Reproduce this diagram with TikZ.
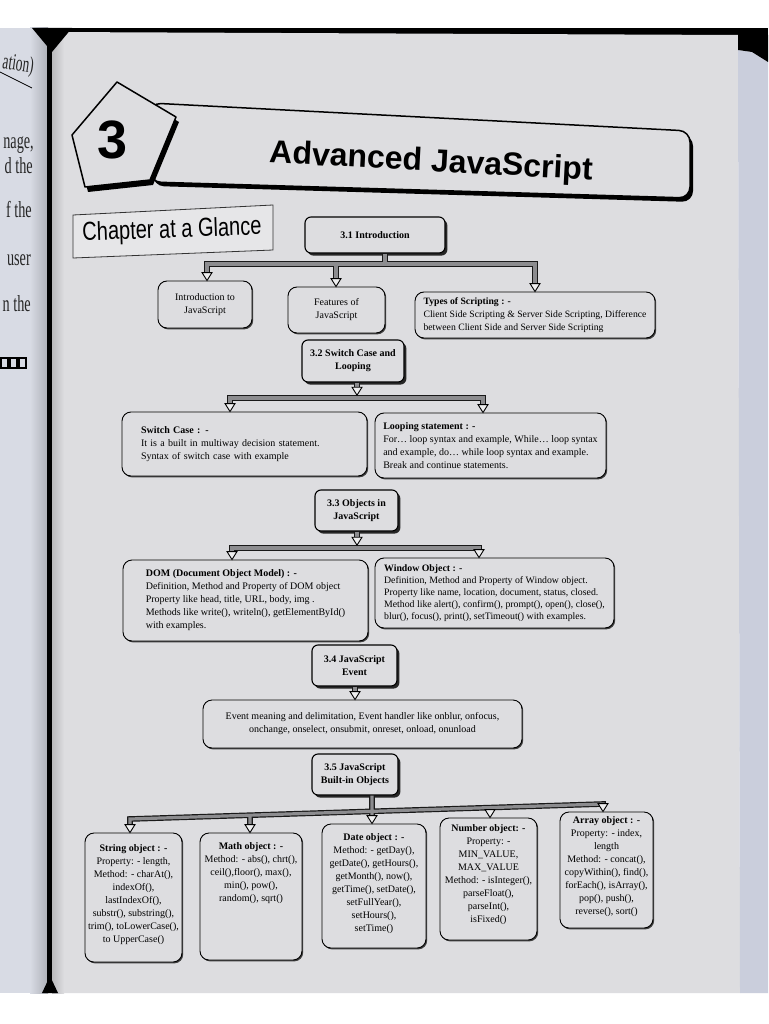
\documentclass[tikz,border=0pt]{standalone}
\usepackage{fontspec}
\setmainfont{Liberation Serif}
\newfontfamily\sansf{Liberation Sans}
\usetikzlibrary{calc,shadows}
\definecolor{pagec}{RGB}{221,221,224}
\definecolor{leftpg}{RGB}{216,219,228}
\definecolor{stackc}{RGB}{202,206,220}
\definecolor{pipegray}{RGB}{140,140,143}
\tikzset{
  hbox/.style={draw=black, line width=1.1pt, rounded corners=6pt, fill=pagec, align=center, inner sep=0pt,
    font=\bfseries\fontsize{10}{13}\selectfont,
    drop shadow={shadow xshift=2.4pt, shadow yshift=-2.6pt, fill=black!85, opacity=1}},
  cbox/.style={draw=black, line width=0.9pt, rounded corners=9pt, fill=pagec, align=left, inner sep=0pt,
    font=\fontsize{10}{13}\selectfont,
    drop shadow={shadow xshift=1.2pt, shadow yshift=-1.4pt, fill=black!75, opacity=1}},
  ctext/.style={align=center, inner sep=0pt, font=\fontsize{10}{13}\selectfont},
  pipeo/.style={line width=5.6pt, draw=black!90, line join=miter},
  pipei/.style={line width=3.2pt, draw=pipegray, line join=miter},
  headst/.style={draw=black, line width=0.9pt, fill=pagec!50!white, line join=miter},
  lp/.style={font=\fontsize{23}{23}\selectfont, inner sep=0pt, anchor=base east, text=black!85},
}
\newcommand\pipes[1]{\draw[pipeo] #1; \draw[pipei] #1;}
\newcommand\ahead[1]{\draw[headst] (#1) -- ++(-5,-8) -- ++(10,0) -- cycle;}
\begin{document}
\begin{tikzpicture}[x=1pt,y=-1pt]
\useasboundingbox (0,0) rectangle (768,1024);
% ---------- photo background ----------
\fill[white] (0,0) rectangle (768,1024);
\fill[leftpg] (0,28) rectangle (48,993);
\shade[left color=leftpg, right color=leftpg!80!black] (30,28) rectangle (48,993);
\fill[black] (46,28) rectangle (768,35);
\fill[pagec] (52,32) -- (738,35) -- (740,993) -- (52,993) -- cycle;
\shade[left color=pagec!84!black, right color=pagec] (52,32) rectangle (64,993);
\fill[stackc] (738,50) -- (752,52) -- (768,62) -- (768,993) -- (740,993) -- cycle;
\fill[black] (738,35) -- (768,35) -- (768,62) -- (752,52) -- (738,50) -- cycle;
\fill[black] (47,28) rectangle (52,993);
\fill[black] (32,28) -- (72,28) -- (52,52) -- cycle;
\fill[black] (42,993) -- (58,993) -- (50,976) -- cycle;
% ---------- left page fragments ----------
\node[lp, rotate=-8] (lp0) at (33,73) {\scalebox{0.58}[1]{ation)}};
\draw[line width=0.8pt] (0,72) -- (32,88);
\node[lp] (lp1) at (34,149) {\scalebox{0.62}[1]{nage,}};
\node[lp] (lp2) at (33,174) {\scalebox{0.62}[1]{d the}};
\node[lp] (lp3) at (32,218) {\scalebox{0.62}[1]{f the}};
\node[lp] (lp4) at (31,265) {\scalebox{0.62}[1]{user}};
\node[lp] (lp5) at (31,311) {\scalebox{0.62}[1]{n the}};
\foreach \xx in {1,10,19} \draw[line width=1.2pt] (\xx,358) rectangle ++(7,10);
% ---------- chapter banner ----------
\begin{scope}[shift={(3,4)}]
\fill[black, rounded corners=11pt] (150,103) -- (690,131) -- (690,198) -- (150,182) -- cycle;
\end{scope}
\draw[line width=1.5pt, fill=pagec, rounded corners=11pt] (150,103) -- (690,131) -- (690,198) -- (150,182) -- cycle;
\begin{scope}[shift={(3,5)}]
\fill[black, line join=round] (117,82) -- (176,117) -- (150,180) -- (85,187) -- (72,135) -- cycle;
\end{scope}
\draw[line width=1.5pt, fill=pagec, line join=round] (117,82) -- (176,117) -- (150,180) -- (85,187) -- (72,135) -- cycle;
\node[font=\sansf\bfseries\fontsize{54}{54}\selectfont, inner sep=0pt] (num3) at (113,140) {3};
\node[font=\sansf\bfseries\fontsize{32}{32}\selectfont, inner sep=0pt, rotate=-3] (title) at (431,163) {Advanced JavaScript};
% ---------- chapter at a glance ----------
\draw[line width=0.8pt, draw=black!80, fill=pagec!75!white] (73,215) -- (273,205) -- (273,250) -- (73,258) -- cycle;
\node[font=\sansf\fontsize{26}{26}\selectfont, inner sep=0pt, rotate=2] (cag) at (172,231) {\scalebox{0.77}[1]{Chapter at a Glance}};
% ---------- 3.1 ----------
\node[hbox, minimum width=140pt, minimum height=36pt] (h31) at (375,235) {3.1 Introduction};
\node[cbox, align=center, minimum width=94pt, minimum height=47pt] (intro) at (205,304.5) {Introduction to\\JavaScript};
\node[cbox, align=center, minimum width=97pt, minimum height=46pt] (feat) at (336.5,310) {Features of\\JavaScript};
\node[cbox, minimum width=240pt, minimum height=46pt, font=\fontsize{9.7}{13}\selectfont] (types) at (535,315)
  {\textbf{Types of Scripting : -}\\Client Side Scripting \& Server Side Scripting, Difference\\between Client Side and Server Side Scripting};
% ---------- 3.2 ----------
\node[hbox, minimum width=102pt, minimum height=42pt] (h32) at (353,361) {3.2 Switch Case and\\Looping};
\node[cbox, minimum width=245pt, minimum height=64pt, inner xsep=19pt, text width=207pt] (sw) at (244.5,444)
  {\textbf{Switch Case : -}\\It is a built in multiway decision statement.\\Syntax of switch case with example};
\node[cbox, minimum width=231pt, minimum height=65pt] (loop) at (490.5,445.5)
  {\textbf{Looping statement : -}\\For… loop syntax and example, While… loop syntax\\and example, do… while loop syntax and example.\\Break and continue statements.};
% ---------- 3.3 ----------
\node[hbox, minimum width=83pt, minimum height=41pt] (h33) at (356.5,510.5) {3.3 Objects in\\JavaScript};
\node[cbox, minimum width=245pt, minimum height=81pt] (dom) at (245.5,600.5)
  {\textbf{DOM (Document Object Model) : -}\\Definition, Method and Property of DOM object\\Property like head, title, URL, body, img .\\Methods like write(), writeln(), getElementById()\\with examples.};
\node[cbox, minimum width=239pt, minimum height=70pt, font=\fontsize{9.8}{12}\selectfont] (win) at (494.5,593)
  {\textbf{Window Object : -}\\Definition, Method and Property of Window object.\\Property like name, location, document, status, closed.\\Method like alert(), confirm(), prompt(), open(), close(),\\blur(), focus(), print(), setTimeout() with examples.};
% ---------- 3.4 ----------
\node[hbox, minimum width=85pt, minimum height=41pt] (h34) at (354.5,665.5) {3.4 JavaScript\\Event};
\node[cbox, align=center, minimum width=319pt, minimum height=48pt] (ev) at (362.5,724)
  {Event meaning and delimitation, Event handler like onblur, onfocus,\\onchange, onselect, onsubmit, onreset, onload, onunload};
% ---------- 3.5 ----------
\node[hbox, minimum width=86pt, minimum height=41pt] (h35) at (355,774.5) {3.5 JavaScript\\Built-in Objects};
\node[cbox, minimum width=97pt, minimum height=129pt] (str) at (133.5,897.5) {};
\node[cbox, minimum width=102pt, minimum height=127pt] (math) at (251,896.5) {};
\node[cbox, minimum width=104pt, minimum height=124pt] (date) at (374,886) {};
\node[cbox, minimum width=97pt, minimum height=122pt] (num) at (488.5,879) {};
\node[cbox, minimum width=93pt, minimum height=116pt] (arr) at (606.5,870) {};
\node[ctext, anchor=north] (strT) at ([yshift=-12pt]str.north)
  {\textbf{String object : -}\\Property: - length,\\Method: - charAt(),\\indexOf(),\\lastIndexOf(),\\substr(), substring(),\\trim(), toLowerCase(),\\to UpperCase()};
\node[ctext, anchor=north] (mathT) at ([yshift=-10pt]math.north)
  {\textbf{Math object : -}\\Method: - abs(), chrt(),\\ceil(),floor(), max(),\\min(), pow(),\\random(), sqrt()};
\node[ctext, anchor=north] (dateT) at ([yshift=-10pt]date.north)
  {\textbf{Date object : -}\\Method: - getDay(),\\getDate(), getHours(),\\getMonth(), now(),\\getTime(), setDate(),\\setFullYear(),\\setHours(),\\setTime()};
\node[ctext, anchor=north] (numT) at ([yshift=-7pt]num.north)
  {\textbf{Number object: -}\\Property: -\\MIN\_VALUE,\\MAX\_VALUE\\Method: - isInteger(),\\parseFloat(),\\parseInt(),\\isFixed()};
\node[ctext, anchor=north] (arrT) at ([yshift=-5pt]arr.north)
  {\textbf{Array object : -}\\Property: - index,\\length\\Method: - concat(),\\copyWithin(), find(),\\forEach(), isArray(),\\pop(), push(),\\reverse(), sort()};
% ---------- connectors ----------
\coordinate (t1) at (207,264); \coordinate (t2) at (336,264); \coordinate (t3) at (535,264); \coordinate (st1) at (385,264);
\pipes{($(t1 |- intro.north)+(0,-7.5)$) -- (t1) -- (t3) -- ($(t3 |- types.north)+(0,-7.5)$) (t2) -- ($(t2 |- feat.north)+(0,-7.5)$) (st1 |- h31.south) -- (st1)}
\ahead{t1 |- intro.north} \ahead{t2 |- feat.north} \ahead{t3 |- types.north}

\coordinate (b2L) at (230,398); \coordinate (b2R) at (483,398); \coordinate (b2) at (357,398);
\pipes{($(b2L |- sw.north)+(0,-7.5)$) -- (b2L) -- (b2R) -- ($(b2R |- loop.north)+(0,-7.5)$) (b2 |- h32.south) -- ($(b2)+(0,-10)$)}
\ahead{b2L |- sw.north} \ahead{b2R |- loop.north} \ahead{$(b2)+(0,-2.8)$}

\coordinate (b3L) at (232,548); \coordinate (b3R) at (479,548); \coordinate (b3) at (357,548);
\pipes{($(b3L |- dom.north)+(0,-7.5)$) -- (b3L) -- (b3R) -- ($(b3R |- win.north)+(0,-7.5)$) (b3 |- h33.south) -- ($(b3)+(0,-10)$)}
\ahead{b3L |- dom.north} \ahead{b3R |- win.north} \ahead{$(b3)+(0,-2.8)$}

\coordinate (b4) at (355,700);
\pipes{(b4 |- h34.south) -- ($(b4 |- ev.north)+(0,-7.5)$)}
\ahead{b4 |- ev.north}

\coordinate (s1) at (130,819); \coordinate (s2) at (250,815.2); \coordinate (s3) at (372,811.3); \coordinate (s4) at (490,807.6); \coordinate (s5) at (603,804);
\pipes{($(s1 |- str.north)+(0,-7.5)$) -- (s1) -- (s5) -- ($(s5 |- arr.north)+(0,-7.5)$) (s2) -- ($(s2 |- math.north)+(0,-7.5)$) (s3 |- h35.south) -- ($(s3 |- date.north)+(0,-7.5)$) (s4) -- ($(s4 |- num.north)+(0,-7.5)$)}
\ahead{s1 |- str.north} \ahead{s2 |- math.north} \ahead{s3 |- date.north} \ahead{s4 |- num.north} \ahead{s5 |- arr.north}
\end{tikzpicture}
\end{document}
